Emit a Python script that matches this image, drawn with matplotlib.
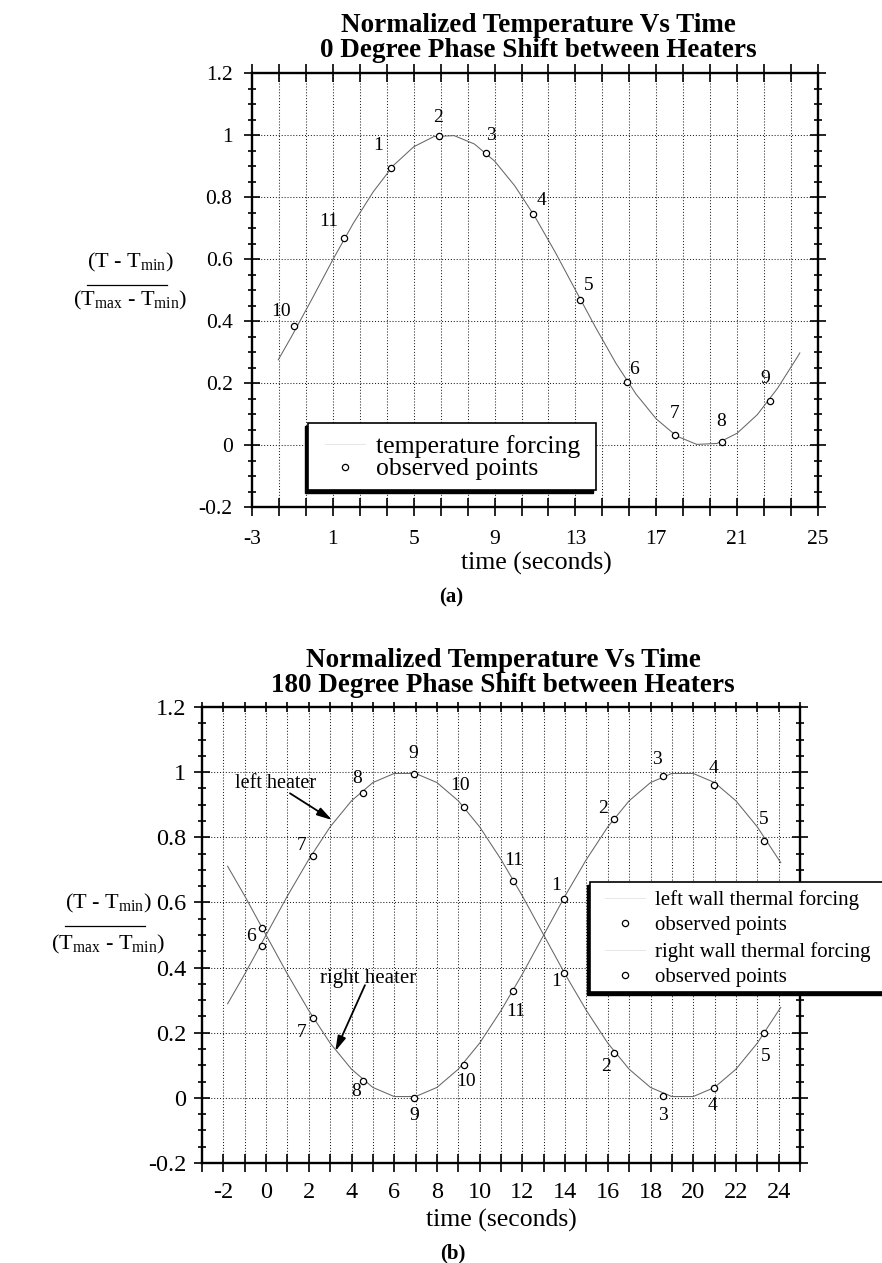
import matplotlib
matplotlib.use("Agg")
import matplotlib.pyplot as plt
from matplotlib.lines import Line2D
from matplotlib.patches import Rectangle

plt.rcParams['font.family'] = ['Liberation Serif', 'DejaVu Serif']
plt.rcParams['axes.unicode_minus'] = False
plt.rcParams['mathtext.fontset'] = 'custom'
plt.rcParams['mathtext.rm'] = 'Liberation Serif'
plt.rcParams['mathtext.it'] = 'Liberation Serif'

# ---------------- (a) 0 degree phase shift ----------------
forcing_a_t = [-1.7, -1, 0, 1, 2, 3, 4, 5, 6, 7, 8, 9, 10, 11, 12, 13, 14,
               15, 16, 17, 18, 19, 20, 21, 22, 23, 24, 24.1]
forcing_a_y = [0.275, 0.355, 0.475, 0.598, 0.714, 0.817, 0.902, 0.962, 0.995,
               0.998, 0.971, 0.916, 0.836, 0.736, 0.622, 0.500, 0.379, 0.264,
               0.164, 0.084, 0.029, 0.002, 0.005, 0.038, 0.098, 0.183, 0.286,
               0.297]
obs_a_t = [3.86, 6.24, 8.56, 10.88, 13.22, 15.54, 17.93, 20.25, 22.61, -0.91, 1.54]
obs_a_y = [0.895, 0.997, 0.941, 0.744, 0.467, 0.204, 0.032, 0.009, 0.142, 0.385, 0.669]
obs_a_num = ['1', '2', '3', '4', '5', '6', '7', '8', '9', '10', '11']
num_a_x = [3.25, 6.2, 8.81, 11.32, 13.66, 15.9, 17.93, 20.23, 22.38, -1.54, 0.81]
num_a_y = [0.965, 1.055, 0.997, 0.79, 0.514, 0.242, 0.102, 0.075, 0.215, 0.43, 0.72]
xticks_a = [-3, 1, 5, 9, 13, 17, 21, 25]
xtick_labels_a = ['-3', '1', '5', '9', '13', '17', '21', '25']

# ---------------- (b) 180 degree phase shift ----------------
forcing_b_t = [-1.8, -1, 0, 1, 2, 3, 4, 5, 6, 7, 8, 9, 10, 11, 12, 13, 14,
               15, 16, 17, 18, 19, 20, 21, 22, 23, 24, 24.1]
left_forcing_y = [0.289, 0.380, 0.500, 0.620, 0.732, 0.832, 0.912, 0.968, 0.996,
                  0.996, 0.968, 0.912, 0.832, 0.732, 0.620, 0.500, 0.380, 0.268,
                  0.168, 0.088, 0.032, 0.004, 0.004, 0.032, 0.088, 0.168, 0.268,
                  0.278]
right_forcing_y = [0.711, 0.620, 0.500, 0.380, 0.268, 0.168, 0.088, 0.032, 0.004,
                   0.004, 0.032, 0.088, 0.168, 0.268, 0.380, 0.500, 0.620, 0.732,
                   0.832, 0.912, 0.968, 0.996, 0.996, 0.968, 0.912, 0.832, 0.732,
                   0.722]
obs_b_t = [-0.21, 2.18, 4.53, 6.93, 9.26, 11.55, 13.95, 16.29, 18.6, 20.98, 23.3]
obs_left_y = [0.466, 0.743, 0.937, 0.995, 0.892, 0.667, 0.382, 0.138, 0.007, 0.030, 0.198]
obs_right_y = [0.523, 0.246, 0.052, 0.000, 0.101, 0.329, 0.612, 0.855, 0.988, 0.961, 0.788]
obs_b_num = ['6', '7', '8', '9', '10', '11', '1', '2', '3', '4', '5']
num_left_x = [-0.71, 1.65, 4.27, 6.89, 9.1, 11.6, 13.6, 15.94, 18.6, 20.92, 23.39]
num_left_y = [0.495, 0.776, 0.981, 1.058, 0.958, 0.73, 0.356, 0.097, -0.053, -0.025, 0.128]
num_right_x = [None, 1.67, 4.23, 6.94, 9.35, 11.7, 13.56, 15.76, 18.32, 20.96, 23.32]
num_right_y = [None, 0.2, 0.019, -0.053, 0.049, 0.264, 0.653, 0.889, 1.039, 1.012, 0.855]
xticks_b = [-2, 0, 2, 4, 6, 8, 10, 12, 14, 16, 18, 20, 22, 24]
xtick_labels_b = ['-2', '0', '2', '4', '6', '8', '10', '12', '14', '16', '18', '20', '22', '24']

yticks = [-0.2, 0, 0.2, 0.4, 0.6, 0.8, 1.0, 1.2]
ytick_labels = ['-0.2', '0', '0.2', '0.4', '0.6', '0.8', '1', '1.2']

W, H = 882, 1263
fig = plt.figure(figsize=(W / 100, H / 100), dpi=100)


def fx(px):
    return px / W


def fy(py):
    return 1 - py / H


def axes_px(left, top, right, bottom):
    return fig.add_axes([fx(left), fy(bottom), (right - left) / W, (bottom - top) / H])


GRID = dict(color='#222222', linewidth=0.75, linestyle=(0, (1, 1.8)))


def style_axes(ax, xmajor, xlabels, xminor, tick_fs, xpad, ypad, top_len):
    ax.set_xlim(-3, 25)
    ax.set_ylim(-0.2, 1.2)
    ax.set_xticks(xmajor)
    ax.set_xticklabels(xlabels)
    ax.set_xticks(xminor, minor=True)
    ax.set_yticks(yticks)
    ax.set_yticklabels(ytick_labels)
    ax.set_yticks([v / 100 for v in range(-20, 121, 5) if v % 20], minor=True)
    for s in ax.spines.values():
        s.set_linewidth(1.7)
    ax.tick_params(which='both', direction='inout', top=True, right=True,
                   width=1.2, color='black', labelsize=tick_fs)
    ax.tick_params(axis='x', which='both', length=13, pad=xpad)
    ax.tick_params(axis='y', which='major', length=11, pad=ypad)
    ax.tick_params(axis='y', which='minor', length=6)
    for t in ax.xaxis.get_major_ticks() + ax.xaxis.get_minor_ticks():
        t.tick2line.set_markersize(top_len)
    ax.grid(True, axis='x', which='both', **GRID)
    ax.grid(True, axis='y', which='major', **GRID)


def title_lines(cx, y1, y2, line1, line2):
    fig.text(fx(cx), fy(y1), line1, ha='center', va='baseline',
             fontsize=19.5, fontweight='bold')
    fig.text(fx(cx), fy(y2), line2, ha='center', va='baseline',
             fontsize=19.5, fontweight='bold')


def ylabel_fraction(cx, cy_num, cy_den, y_bar):
    fig.text(fx(cx), fy(cy_num), r'(T - T$_{\mathrm{min}}$)', ha='center',
             va='center', fontsize=16)
    fig.text(fx(cx), fy(cy_den), r'(T$_{\mathrm{max}}$ - T$_{\mathrm{min}}$)',
             ha='center', va='center', fontsize=16)
    fig.add_artist(Line2D([fx(cx - 43), fx(cx + 37)], [fy(y_bar), fy(y_bar)],
                          transform=fig.transFigure, color='black', lw=0.9))


def legend_panel(left, top, right, bottom, rows, text_x, mark_x, fs):
    sh = 3
    fig.add_artist(Rectangle((fx(left - sh), fy(bottom + sh)),
                             (right - left) / W, (bottom - top) / H,
                             transform=fig.transFigure, facecolor='black',
                             edgecolor='black', zorder=10))
    fig.add_artist(Rectangle((fx(left), fy(bottom)),
                             (right - left) / W, (bottom - top) / H,
                             transform=fig.transFigure, facecolor='white',
                             edgecolor='black', lw=1.2, zorder=11))
    for y, label, kind in rows:
        if kind == 'marker':
            fig.add_artist(Line2D([fx(mark_x)], [fy(y)], transform=fig.transFigure,
                                  marker='o', ms=4.5, mfc='white', mec='black',
                                  mew=0.9, ls='none', zorder=12))
        else:
            fig.add_artist(Line2D([fx(mark_x - 20), fx(mark_x + 20)], [fy(y), fy(y)],
                                  transform=fig.transFigure, color='#dddddd',
                                  lw=0.5, zorder=12))
        fig.text(fx(text_x), fy(y), label, ha='left', va='center_baseline',
                 fontsize=fs, zorder=13)


CURVE = dict(color='#666666', lw=0.75)
MARK = dict(marker='o', ms=4.5, mfc='white', mec='black', mew=0.9, ls='none', zorder=5)

# ---------------- panel (a) ----------------
ax_a = axes_px(252, 73, 818, 507)
minor_a = [-3 + k * 4 / 3 for k in range(22) if k % 3]
style_axes(ax_a, xticks_a, xtick_labels_a, minor_a, 15.5, 10, 8.5, 13)
ax_a.plot(forcing_a_t, forcing_a_y, **CURVE)
ax_a.plot(obs_a_t, obs_a_y, **MARK)
for s, x, y in zip(obs_a_num, num_a_x, num_a_y):
    ax_a.text(x, y, s, ha='center', va='center', fontsize=14)

title_lines(538, 31.7, 56.7, 'Normalized Temperature Vs Time',
            '0 Degree Phase Shift between Heaters')
ylabel_fraction(130, 262, 300, 285)
fig.text(fx(536), fy(563), 'time (seconds)', ha='center', va='center', fontsize=18.5)
fig.text(fx(451), fy(597), '(a)', ha='center', va='center', fontsize=15,
         fontweight='bold')
legend_panel(308, 423, 596, 490,
             [(444, 'temperature forcing', 'line'),
              (467, 'observed points', 'marker')],
             376, 345, 18.5)

# ---------------- panel (b) ----------------
ax_b = axes_px(202, 707, 800, 1163)
minor_b = [v for v in range(-3, 26) if v % 2]
style_axes(ax_b, xticks_b, xtick_labels_b, minor_b, 17.5, 7, 6, 7)
ax_b.plot(forcing_b_t, left_forcing_y, **CURVE)
ax_b.plot(forcing_b_t, right_forcing_y, **CURVE)
ax_b.plot(obs_b_t, obs_left_y, **MARK)
ax_b.plot(obs_b_t, obs_right_y, **MARK)
for s, x, y in zip(obs_b_num, num_left_x, num_left_y):
    ax_b.text(x, y, s, ha='center', va='center', fontsize=14)
for s, x, y in zip(obs_b_num, num_right_x, num_right_y):
    if x is not None:
        ax_b.text(x, y, s, ha='center', va='center', fontsize=14)

ARROW = dict(arrowstyle='-|>,head_length=0.9,head_width=0.25', color='black',
             lw=1.3, shrinkA=0, shrinkB=0)
ax_b.text(0.43, 0.966, 'left heater', ha='center', va='center', fontsize=14.5)
ax_b.annotate('', xy=(3.09, 0.853), xytext=(1.12, 0.935), arrowprops=ARROW)
ax_b.text(4.79, 0.367, 'right heater', ha='center', va='center', fontsize=15)
ax_b.annotate('', xy=(3.24, 0.143), xytext=(4.63, 0.346), arrowprops=ARROW)

title_lines(503, 666.7, 691.7, 'Normalized Temperature Vs Time',
            '180 Degree Phase Shift between Heaters')
ylabel_fraction(108, 903, 944, 926)
fig.text(fx(501), fy(1220), 'time (seconds)', ha='center', va='center', fontsize=18.5)
fig.text(fx(453), fy(1253), '(b)', ha='center', va='center', fontsize=15,
         fontweight='bold')
legend_panel(590, 882, 900, 992,
             [(898, 'left wall thermal forcing', 'line'),
              (923, 'observed points', 'marker'),
              (950, 'right wall thermal forcing', 'line'),
              (975, 'observed points', 'marker')],
             655, 625, 15)

fig.savefig('out.png', dpi=100)
